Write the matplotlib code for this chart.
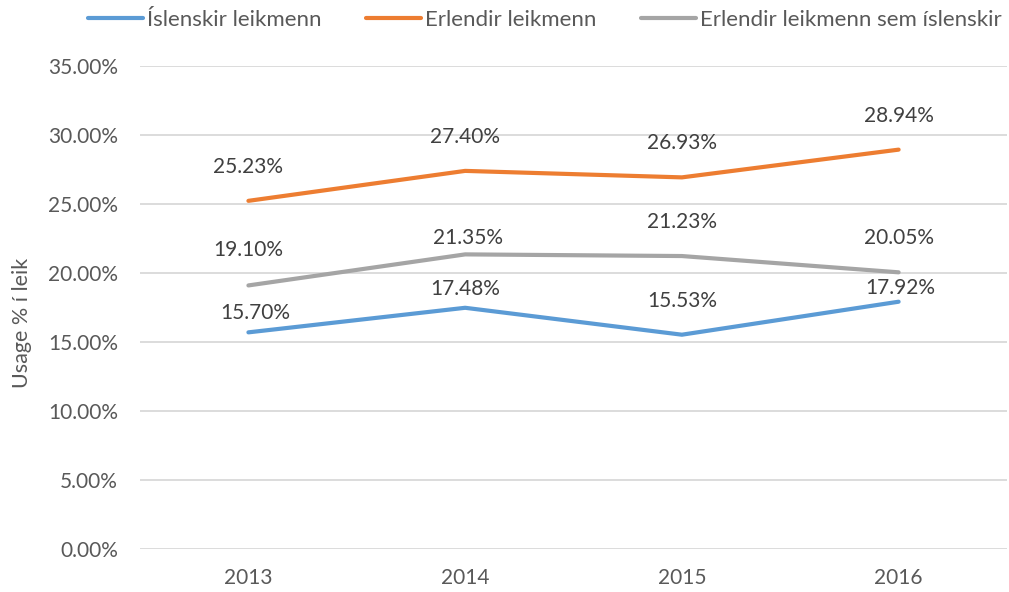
import matplotlib
matplotlib.use("Agg")
from matplotlib import pyplot as plt
import numpy as np

plt.rcParams['font.family'] = ['Lato', 'DejaVu Sans']

# Данные
years = ["2013", "2014", "2015", "2016"]
islenskir = [15.70, 17.48, 15.53, 17.92]
erlendir = [25.23, 27.40, 26.93, 28.94]
erlendir_sem_isl = [19.10, 21.35, 21.23, 20.05]
series_names = ["Íslenskir leikmenn", "Erlendir leikmenn", "Erlendir leikmenn sem íslenskir"]
y_ticks = np.arange(0, 36, 5)

colors = ["#5B9BD5", "#ED7D31", "#A5A5A5"]
text_col = "#595959"
label_col = "#404040"
fs = 15

# сдвиг подписей (пиксели): x, y
offsets = [
    [(7, 19), (0, 19), (0, 34), (2, 14)],
    [(0, 34), (0, 34), (0, 34), (0, 34)],
    [(0, 35), (3, 16), (0, 34), (0, 34)],
]

fig = plt.figure(figsize=(10.09, 5.92), dpi=100)
ax = fig.add_axes([0.1388, 0.0726, 0.998 - 0.1388, 0.8885 - 0.0726])

x = np.arange(len(years))
all_series = [islenskir, erlendir, erlendir_sem_isl]
for vals, name, c, offs in zip(all_series, series_names, colors, offsets):
    ax.plot(x, vals, color=c, lw=3, solid_capstyle='round', solid_joinstyle='round', label=name)
    for xi, v, (dx, dy) in zip(x, vals, offs):
        ax.annotate(f"{v:.2f}%", (xi, v), xytext=(dx, dy), textcoords='offset pixels',
                    ha='center', va='center', fontsize=fs, color=label_col)

ax.set_xlim(-0.5, len(years) - 0.5)
ax.set_ylim(0, 35)
ax.set_xticks(x)
ax.set_xticklabels(years)
ax.set_yticks(y_ticks)
ax.set_yticklabels([f"{t:.2f}%" for t in y_ticks])
ax.tick_params(length=0, labelsize=fs, labelcolor=text_col)
ax.tick_params(axis='y', pad=16)
ax.tick_params(axis='x', pad=14)
ax.grid(axis='y', color="#D9D9D9", lw=1.3)
ax.set_axisbelow(True)
for s in ax.spines.values():
    s.set_visible(False)

fig.text(0.022, 0.455, "Usage % í leik", rotation=90, ha='center', va='center',
         fontsize=fs + 0.5, color=text_col)

fig.legend(loc='center', bbox_to_anchor=(0.54, 0.966), ncol=3, frameon=False,
           fontsize=16, labelcolor=text_col, handlelength=2.48, handletextpad=0.18,
           columnspacing=2.0, borderpad=0)

fig.savefig("out.png", dpi=100)
